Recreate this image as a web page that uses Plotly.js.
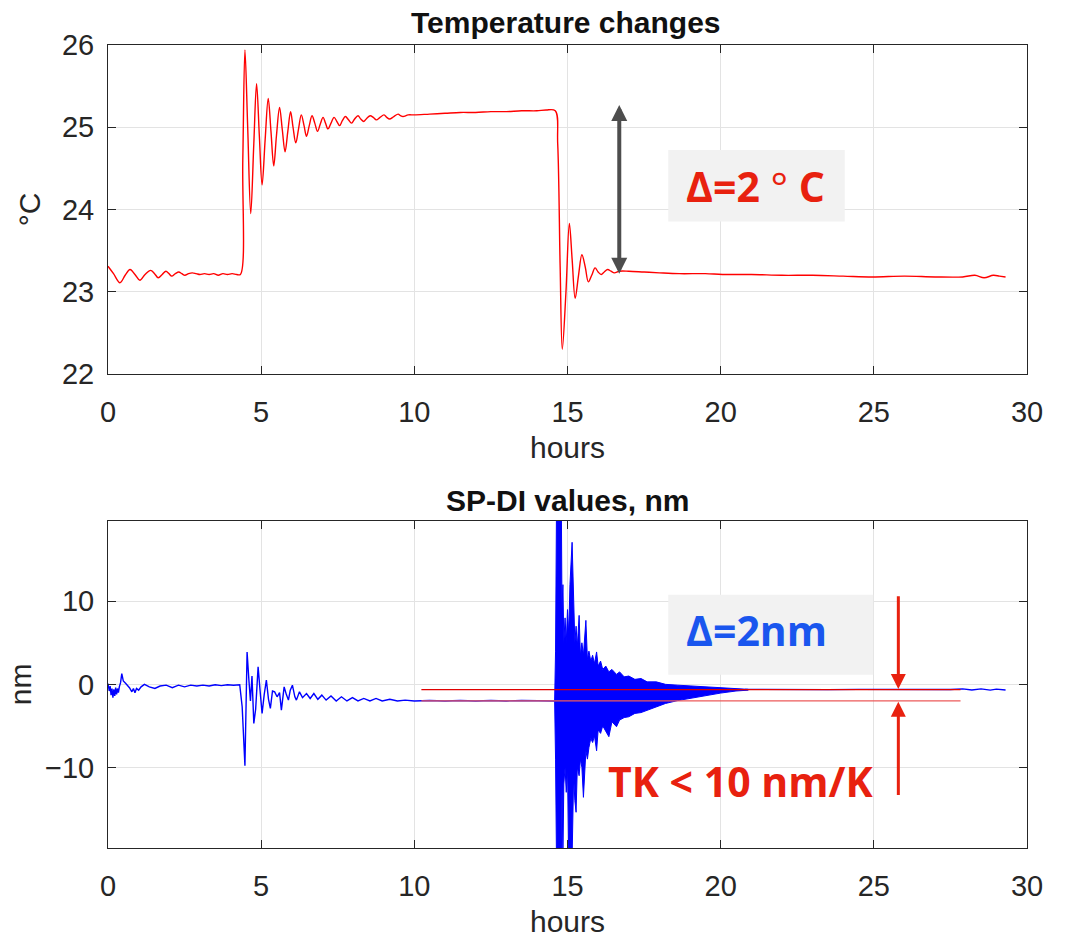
<!DOCTYPE html>
<html><head><meta charset="utf-8">
<script src="https://cdn.plot.ly/plotly-3.0.1.min.js"></script>
<style>html,body{margin:0;padding:0;background:#fff}</style>
</head><body>
<div id="chart" style="width:1076px;height:939px"></div>
<script>
// ---- data ----
const xTicks = [0, 5, 10, 15, 20, 25, 30];
const tempTicks = [22, 23, 24, 25, 26];
const spdiTicks = [-10, 0, 10];

const tempHours = [0.00,0.18,0.39,0.56,0.72,0.88,1.04,1.21,1.39,1.52,1.64,1.77,1.89,1.99,2.08,2.20,2.31,2.41,2.51,2.63,2.75,2.88,3.00,3.15,3.30,3.45,3.60,3.75,3.90,4.05,4.20,4.32,4.40,4.47,4.56,4.66,4.76,4.85,4.94,5.03,5.13,5.23,5.32,5.41,5.50,5.60,5.69,5.78,5.87,5.96,6.04,6.13,6.22,6.31,6.40,6.48,6.57,6.66,6.75,6.84,6.93,7.02,7.10,7.18,7.28,7.38,7.47,7.56,7.65,7.75,7.85,7.95,8.05,8.16,8.25,8.35,8.45,8.56,8.66,8.76,8.88,9.01,9.10,9.19,9.33,9.47,9.55,9.63,9.80,10.0,10.5,11.0,11.5,12.0,12.5,13.0,13.5,14.0,14.3,14.6,14.68,14.76,14.83,14.95,15.06,15.15,15.25,15.36,15.47,15.58,15.68,15.79,15.90,16.00,16.10,16.20,16.31,16.42,16.53,16.69,17.0,17.5,18.0,18.65,19.5,20.06,21.0,22.0,23.0,24.0,24.95,26.0,27.0,27.9,28.3,28.6,28.9,29.1,29.3];
const tempValues = [23.31,23.22,23.11,23.20,23.27,23.21,23.14,23.21,23.26,23.22,23.17,23.21,23.25,23.22,23.19,23.22,23.24,23.22,23.20,23.22,23.23,23.22,23.21,23.22,23.21,23.22,23.20,23.22,23.21,23.22,23.21,23.21,24.60,25.94,25.00,23.95,24.80,25.53,24.90,24.30,24.85,25.35,24.95,24.53,24.90,25.24,24.97,24.70,24.95,25.19,25.00,24.81,24.98,25.15,25.02,24.89,25.02,25.14,25.05,24.95,25.04,25.12,25.05,24.98,25.05,25.12,25.07,25.02,25.08,25.13,25.09,25.05,25.10,25.14,25.10,25.07,25.11,25.14,25.12,25.09,25.12,25.15,25.12,25.10,25.13,25.16,25.14,25.13,25.15,25.15,25.16,25.17,25.18,25.18,25.19,25.19,25.20,25.20,25.21,25.20,24.80,23.30,22.30,23.00,23.83,23.40,22.92,23.20,23.45,23.30,23.12,23.20,23.29,23.24,23.21,23.24,23.27,23.25,23.23,23.25,23.25,23.24,23.23,23.22,23.22,23.21,23.21,23.20,23.20,23.19,23.18,23.19,23.18,23.18,23.20,23.17,23.20,23.19,23.18];

const spdiHours = [0,0.04,0.07,0.10,0.13,0.16,0.19,0.22,0.25,0.28,0.31,0.34,0.37,0.41,0.45,0.50,0.58,0.70,0.78,0.83,0.88,0.93,1.00,1.08,1.19,1.35,1.53,1.70,1.90,2.10,2.30,2.50,2.70,2.90,3.10,3.30,3.50,3.70,3.90,4.10,4.30,4.38,4.47,4.54,4.60,4.65,4.70,4.76,4.82,4.90,4.97,5.03,5.10,5.17,5.24,5.30,5.37,5.44,5.52,5.60,5.66,5.75,5.82,5.89,5.95,6.02,6.10,6.15,6.25,6.35,6.48,6.60,6.72,6.85,6.98,7.12,7.28,7.45,7.62,7.80,7.98,8.16,8.35,8.55,8.75,8.95,9.20,9.45,9.70,10.0,10.5,11.0,11.5,12.0,12.5,13.0,13.5,14.0,14.58,null,20.8,21.5,22.5,23.5,24.5,25.5,26.5,27.5,27.9,28.2,28.5,28.8,29.0,29.3];
const spdiValues = [0.1,-0.8,-0.2,-1.3,-0.5,-1.6,-0.6,-1.4,-0.4,-1.2,-0.5,-1.0,-0.3,0.2,1.3,0.4,0.1,-0.4,-0.9,-0.5,-1.0,-0.5,-0.7,-0.3,0.0,-0.3,-0.5,-0.2,-0.1,-0.4,-0.1,-0.3,-0.1,-0.2,-0.1,-0.2,-0.05,-0.15,-0.05,-0.1,-0.05,-2.7,-9.8,3.9,0.5,-2.0,1.0,-4.7,-3.0,2.1,-1.0,-3.5,-1.2,0.5,-1.8,-2.9,-0.8,-0.9,-1.5,-1.0,-3.1,-0.3,-1.2,-1.9,-0.7,-0.1,-1.5,-1.9,-0.9,-1.6,-1.1,-1.7,-1.1,-1.8,-1.3,-1.9,-1.4,-2.0,-1.5,-2.0,-1.6,-2.0,-1.7,-2.0,-1.7,-2.0,-1.8,-2.0,-1.9,-2.0,-1.95,-2.0,-1.95,-2.0,-1.95,-2.0,-1.95,-2.0,-2.0,null,-0.6,-0.62,-0.6,-0.63,-0.6,-0.62,-0.6,-0.62,-0.55,-0.68,-0.55,-0.7,-0.58,-0.68];

// envelope of the dense oscillation burst after the temperature drop
const burstHours = [14.58,14.61,14.64,14.80,14.82,14.85,14.88,14.92,14.96,15.00,15.04,15.08,15.15,15.20,15.24,15.28,15.32,15.38,15.42,15.47,15.52,15.60,15.65,15.70,15.76,15.82,15.88,15.95,16.00,16.08,16.15,16.25,16.35,16.45,16.60,16.70,16.85,17.00,17.20,17.40,17.60,17.90,18.20,18.60,19.00,19.50,20.00,20.50,20.90];
const burstUpper = [-2.0,4,21,21,9,12,5,8,5,9,6,12,17.1,9,5,7,4.5,8.3,3.5,5,3.5,7.7,3,4,2.8,3.5,2.5,3.9,2.2,2.8,1.8,2.2,1.5,1.8,1.2,1.5,0.9,1.0,0.6,0.7,0.3,0.3,0.0,-0.1,-0.2,-0.3,-0.45,-0.55,-0.6];
const burstLower = [-2.0,-9,-21,-21,-12,-21,-12,-10,-13,-10,-21,-21,-21,-11,-14,-15.4,-10,-11,-9,-10,-13.6,-8,-9,-7.6,-6.5,-7,-6.2,-8.0,-5.5,-5.9,-5.0,-5.6,-6.3,-4.5,-5.1,-4.3,-4.0,-3.9,-3.5,-3.4,-3.1,-2.7,-2.3,-1.95,-1.7,-1.35,-1.05,-0.8,-0.7];

// reference lines marking the 2 nm shift
const refLineHours = [10.23, 27.83];
const refUpperLevel = -0.64;
const refLowerLevel = -2.0;

// ---- figure ----
const W = 1076, H = 939;
const xDom = [108 / W, 1027 / W];
const y1Dom = [1 - 374 / H, 1 - 45 / H];
const y2Dom = [1 - 848 / H, 1 - 520.7 / H];

const fam = 'Liberation Sans, Arial, sans-serif';
const tickFont = {family: fam, size: 29, color: '#262626'};
const titleFont = {family: fam, size: 30, color: '#262626'};

function xAxis(anchor) {
  return {
    domain: xDom, anchor: anchor, range: [0, 30], tickvals: xTicks,
    ticks: 'inside', ticklen: 8, tickcolor: '#262626', tickwidth: 1,
    showline: true, linecolor: '#262626', linewidth: 1, mirror: 'ticks',
    showgrid: true, gridcolor: '#e3e3e3', gridwidth: 1, zeroline: false,
    tickfont: tickFont, ticklabelstandoff: 12,
    title: {text: 'hours', font: titleFont, standoff: 10}
  };
}
function yAxis(anchor, dom, range, ticks, label, so) {
  return {
    domain: dom, anchor: anchor, range: range, tickvals: ticks,
    ticks: 'inside', ticklen: 8, tickcolor: '#262626', tickwidth: 1,
    showline: true, linecolor: '#262626', linewidth: 1, mirror: 'ticks',
    showgrid: true, gridcolor: '#e3e3e3', gridwidth: 1, zeroline: false,
    tickfont: tickFont, ticklabelstandoff: 7,
    title: {text: label, font: titleFont, standoff: so}
  };
}

const traces = [
  {x: tempHours, y: tempValues, type: 'scatter', mode: 'lines', xaxis: 'x', yaxis: 'y',
   line: {color: '#ff0000', width: 1.4, shape: 'spline', smoothing: 1}, hoverinfo: 'skip'},
  {x: spdiHours, y: spdiValues, type: 'scatter', mode: 'lines', xaxis: 'x2', yaxis: 'y2',
   line: {color: '#0000ff', width: 1.4}, connectgaps: false, hoverinfo: 'skip'},
  {x: burstHours.concat(burstHours.slice().reverse()),
   y: burstUpper.concat(burstLower.slice().reverse()),
   type: 'scatter', mode: 'lines', fill: 'toself', fillcolor: '#0000ff',
   xaxis: 'x2', yaxis: 'y2', line: {color: '#0000ff', width: 1}, hoverinfo: 'skip'},
  {x: refLineHours, y: refLineHours.map(() => refUpperLevel), type: 'scatter', mode: 'lines',
   xaxis: 'x2', yaxis: 'y2', line: {color: '#e00000', width: 1.2}, hoverinfo: 'skip'},
  {x: refLineHours, y: refLineHours.map(() => refLowerLevel), type: 'scatter', mode: 'lines',
   xaxis: 'x2', yaxis: 'y2', line: {color: '#ec5a5a', width: 1.2}, hoverinfo: 'skip'}
];

const red = '#e8210f';
const layout = {
  width: W, height: H,
  margin: {l: 0, r: 0, t: 0, b: 0},
  paper_bgcolor: '#ffffff', plot_bgcolor: '#ffffff',
  showlegend: false,
  xaxis: xAxis('y'),
  yaxis: yAxis('x', y1Dom, [22, 26], tempTicks, '°C', 12),
  xaxis2: xAxis('y2'),
  yaxis2: yAxis('x2', y2Dom, [-19.7, 19.7], spdiTicks, 'nm', 4),
  shapes: [
    {type: 'rect', xref: 'x', yref: 'y', x0: 18.29, x1: 24.05, y0: 23.853, y1: 24.724,
     fillcolor: '#f2f2f2', line: {width: 0}, layer: 'above'},
    {type: 'rect', xref: 'x2', yref: 'y2', x0: 18.29, x1: 24.98, y0: 1.17, y1: 10.8,
     fillcolor: '#f2f2f2', line: {width: 0}, layer: 'above'}
  ],
  annotations: [
    {text: '<b>Temperature changes</b>', xref: 'paper', yref: 'paper', x: 566 / W, y: 1 - 22 / H,
     xanchor: 'center', yanchor: 'middle', showarrow: false,
     font: {family: fam, size: 30, color: '#111111'}},
    {text: '<b>SP-DI values, nm</b>', xref: 'paper', yref: 'paper', x: 567 / W, y: 1 - 500 / H,
     xanchor: 'center', yanchor: 'middle', showarrow: false,
     font: {family: fam, size: 30, color: '#111111'}},
    {text: '<b>Δ=2 </b>°<b> C</b>', xref: 'x', yref: 'y', x: 21.13, y: 24.287,
     xanchor: 'center', yanchor: 'middle', showarrow: false,
     font: {family: 'Open Sans, sans-serif', size: 41, color: red}},
    {text: '<b>Δ=2nm</b>', xref: 'x2', yref: 'y2', x: 21.18, y: 6.5,
     xanchor: 'center', yanchor: 'middle', showarrow: false,
     font: {family: 'Open Sans, sans-serif', size: 41, color: '#1a56ee'}},
    {text: '<b>TK < 10 nm/K</b>', xref: 'x2', yref: 'y2', x: 20.66, y: -11.6,
     xanchor: 'center', yanchor: 'middle', showarrow: false,
     font: {family: 'Open Sans, sans-serif', size: 41, color: red}},
    {text: '', xref: 'x', yref: 'y', x: 16.69, y: 23.22, axref: 'x', ayref: 'y', ax: 16.69, ay: 25.29,
     showarrow: true, arrowside: 'end+start', arrowhead: 2, startarrowhead: 2,
     arrowwidth: 4, arrowsize: 0.8, startarrowsize: 0.8, arrowcolor: '#4d4d4d', standoff: 0, startstandoff: 0},
    {text: '', xref: 'x2', yref: 'y2', x: 25.8, y: -0.55, axref: 'x2', ayref: 'y2', ax: 25.8, ay: 10.8,
     showarrow: true, arrowhead: 2, arrowwidth: 3, arrowsize: 1, arrowcolor: red, standoff: 0},
    {text: '', xref: 'x2', yref: 'y2', x: 25.8, y: -2.1, axref: 'x2', ayref: 'y2', ax: 25.8, ay: -13.5,
     showarrow: true, arrowhead: 2, arrowwidth: 3, arrowsize: 1, arrowcolor: red, standoff: 0}
  ]
};

Plotly.newPlot('chart', traces, layout, {displayModeBar: false, staticPlot: true});
</script>
</body></html>
